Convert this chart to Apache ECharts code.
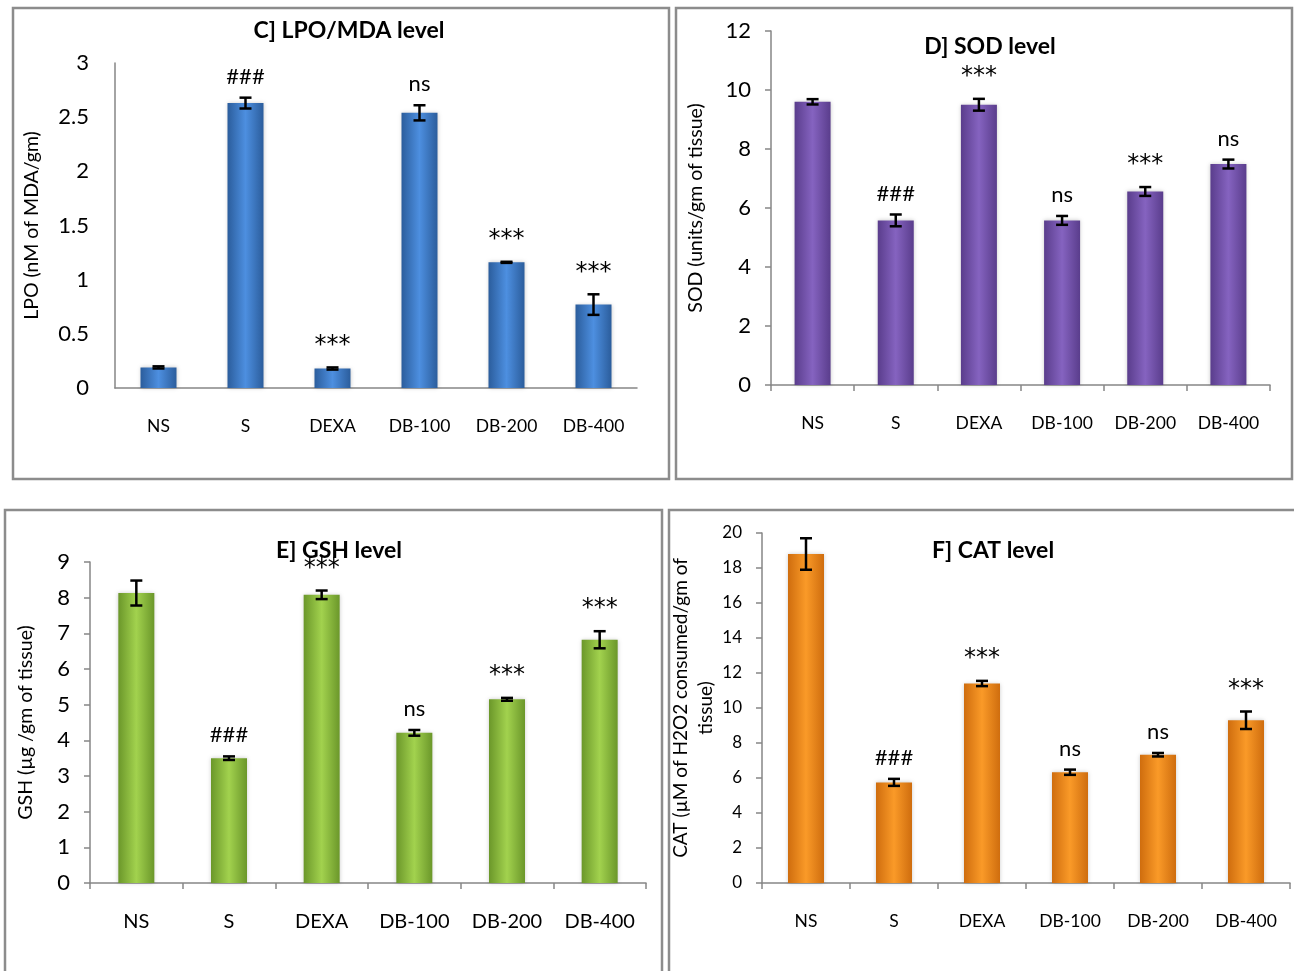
<!DOCTYPE html>
<html>
<head>
<meta charset="utf-8">
<script src="https://cdn.jsdelivr.net/npm/echarts@6/dist/echarts.min.js"></script>
<style>
html, body { margin: 0; padding: 0; background: #fff; }
#main { width: 1294px; height: 971px; }
</style>
</head>
<body>
<div id="main"></div>
<script>
var categories = ['NS', 'S', 'DEXA', 'DB-100', 'DB-200', 'DB-400'];

var lpoValues = [0.19, 2.63, 0.18, 2.54, 1.16, 0.77];
var lpoErrors = [0.01, 0.05, 0.01, 0.07, 0.005, 0.095];
var lpoMarks = ['', '###', '***', 'ns', '***', '***'];

var sodValues = [9.6, 5.58, 9.5, 5.58, 6.56, 7.49];
var sodErrors = [0.09, 0.2, 0.2, 0.15, 0.15, 0.15];
var sodMarks = ['', '###', '***', 'ns', '***', 'ns'];

var gshValues = [8.13, 3.5, 8.08, 4.21, 5.15, 6.82];
var gshErrors = [0.35, 0.05, 0.12, 0.08, 0.04, 0.24];
var gshMarks = ['', '###', '***', 'ns', '***', '***'];

var catValues = [18.8, 5.75, 11.4, 6.33, 7.33, 9.3];
var catErrors = [0.9, 0.2, 0.15, 0.15, 0.1, 0.5];
var catMarks = ['', '###', '***', 'ns', 'ns', '***'];

var FONT = 'Lato, "Open Sans", sans-serif';

var panels = [
    {
        title: 'C] LPO/MDA level', titleX: 344, titleY: 14,
        name: 'LPO (nM of MDA/gm)', nameGap: 71, nameFont: 19.5,
        grid: { left: 115, right: 657, top: 63, bottom: 583 },
        min: 0, max: 3, interval: 0.5, yFont: 22, xFont: 17.5, ticks: false,
        values: lpoValues, errors: lpoErrors, marks: lpoMarks,
        colors: ['#2b5d9c', '#4d8fe0', '#2b5d9c']
    },
    {
        title: 'D] SOD level', titleX: 985, titleY: 30,
        name: 'SOD (units/gm of tissue)', nameGap: 63, nameFont: 19.5,
        grid: { left: 771, right: 24, top: 31, bottom: 586 },
        min: 0, max: 12, interval: 2, yFont: 22, xFont: 17.5, ticks: true,
        values: sodValues, errors: sodErrors, marks: sodMarks,
        colors: ['#5a3d8c', '#8563c0', '#5a3d8c']
    },
    {
        title: 'E] GSH level', titleX: 334, titleY: 534,
        name: 'GSH (µg /gm of tissue)', nameGap: 52, nameFont: 19.5,
        grid: { left: 90, right: 648, top: 562, bottom: 88 },
        min: 0, max: 9, interval: 1, yFont: 22, xFont: 20, ticks: true,
        values: gshValues, errors: gshErrors, marks: gshMarks,
        colors: ['#6b972a', '#a2d24e', '#6b972a']
    },
    {
        title: 'F] CAT level', titleX: 988, titleY: 534,
        name: 'CAT (µM of H2O2 consumed/gm of\ntissue)', nameGap: 26, nameFont: 19,
        grid: { left: 762, right: 4, top: 533, bottom: 88 },
        min: 0, max: 20, interval: 2, yFont: 17, xFont: 17.5, ticks: true,
        values: catValues, errors: catErrors, marks: catMarks,
        colors: ['#cf6d0e', '#fa9a28', '#cf6d0e']
    }
];

function errorRenderer(p) {
    return function (params, api) {
        var i = api.value(0);
        var v = api.value(1);
        var e = api.value(2);
        var top = api.coord([i, v + e]);
        var bot = api.coord([i, v - e]);
        var cap = 6;
        var st = { stroke: '#000', lineWidth: 2.5 };
        var children = [
            { type: 'line', shape: { x1: top[0], y1: top[1], x2: bot[0], y2: bot[1] }, style: st },
            { type: 'line', shape: { x1: top[0] - cap, y1: top[1], x2: top[0] + cap, y2: top[1] }, style: st },
            { type: 'line', shape: { x1: bot[0] - cap, y1: bot[1], x2: bot[0] + cap, y2: bot[1] }, style: st }
        ];
        var mark = p.marks[params.dataIndex];
        if (mark) {
            var stars = mark === '***';
            children.push({
                type: 'text', x: top[0], y: top[1] - (stars ? 22 : 21),
                style: {
                    text: mark, align: 'center', verticalAlign: 'middle', fill: '#000',
                    font: stars ? '24px "DejaVu Sans", sans-serif' : '22px ' + FONT
                }
            });
        }
        return { type: 'group', children: children };
    };
}

var chartDom = document.getElementById('main');
var myChart = echarts.init(chartDom, null, { renderer: 'canvas' });

var option = {
    backgroundColor: '#fff',
    animation: false,
    title: [],
    grid: [],
    xAxis: [],
    yAxis: [],
    series: [],
    graphic: [
        { type: 'rect', shape: { x: 13, y: 8, width: 656, height: 471 }, style: { fill: 'none', stroke: '#8c8c8c', lineWidth: 2.5 } },
        { type: 'rect', shape: { x: 676, y: 8, width: 616, height: 471 }, style: { fill: 'none', stroke: '#8c8c8c', lineWidth: 2.5 } },
        { type: 'rect', shape: { x: 5, y: 510, width: 657, height: 490 }, style: { fill: 'none', stroke: '#8c8c8c', lineWidth: 2.5 } },
        { type: 'rect', shape: { x: 669, y: 510, width: 660, height: 490 }, style: { fill: 'none', stroke: '#8c8c8c', lineWidth: 2.5 } }
    ]
};

panels.forEach(function (p, k) {
    option.title.push({
        text: p.title, left: p.titleX, top: p.titleY, textAlign: 'center',
        textStyle: { fontFamily: FONT, fontSize: 23, fontWeight: 'bold', color: '#000' }
    });
    option.grid.push(p.grid);
    option.xAxis.push({
        type: 'category', gridIndex: k, data: categories,
        axisLine: { lineStyle: { color: '#868686', width: 1.5 } },
        axisTick: { show: p.ticks, length: 6, lineStyle: { color: '#868686', width: 1.5 } },
        axisLabel: { color: '#000', fontFamily: FONT, fontSize: p.xFont, margin: 29 }
    });
    option.yAxis.push({
        type: 'value', gridIndex: k, min: p.min, max: p.max, interval: p.interval,
        name: p.name, nameLocation: 'middle', nameGap: p.nameGap, nameRotate: 90,
        nameTextStyle: { color: '#000', fontFamily: FONT, fontSize: p.nameFont, lineHeight: 25 },
        axisLine: { show: true, lineStyle: { color: '#868686', width: 1.5 } },
        axisTick: { show: p.ticks, length: 6, lineStyle: { color: '#868686', width: 1.5 } },
        splitLine: { show: false },
        axisLabel: { color: '#000', fontFamily: FONT, fontSize: p.yFont, margin: p.ticks ? 20 : 26 }
    });
    option.series.push({
        type: 'bar', xAxisIndex: k, yAxisIndex: k, data: p.values, barWidth: 36,
        itemStyle: {
            color: new echarts.graphic.LinearGradient(0, 0, 1, 0, [
                { offset: 0, color: p.colors[0] },
                { offset: 0.5, color: p.colors[1] },
                { offset: 1, color: p.colors[2] }
            ]),
            shadowColor: 'rgba(0,0,0,0.2)', shadowBlur: 4
        }
    });
    option.series.push({
        type: 'custom', xAxisIndex: k, yAxisIndex: k,
        data: p.values.map(function (v, i) { return [i, v, p.errors[i]]; }),
        renderItem: errorRenderer(p), z: 5
    });
});

option && myChart.setOption(option);
</script>
</body>
</html>
